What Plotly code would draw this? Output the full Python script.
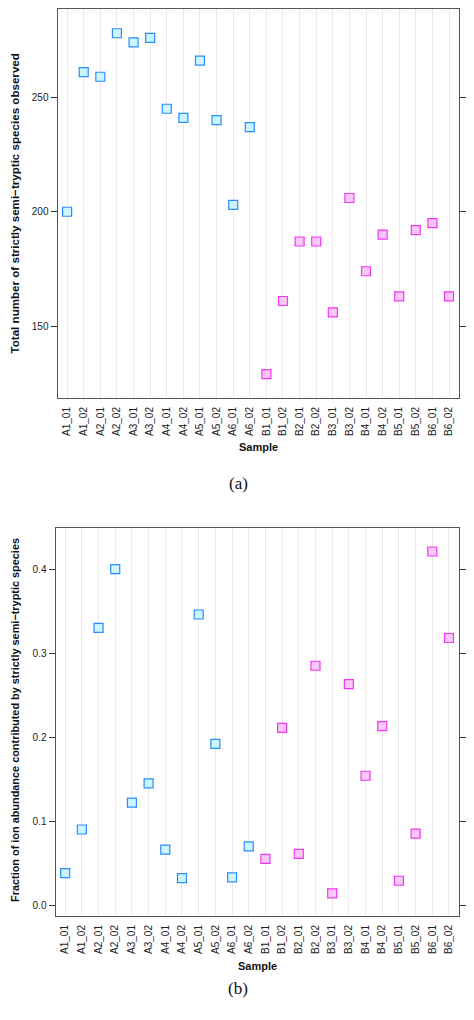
import plotly.graph_objects as go

samples = ["A1_01", "A1_02", "A2_01", "A2_02", "A3_01", "A3_02", "A4_01", "A4_02",
           "A5_01", "A5_02", "A6_01", "A6_02", "B1_01", "B1_02", "B2_01", "B2_02",
           "B3_01", "B3_02", "B4_01", "B4_02", "B5_01", "B5_02", "B6_01", "B6_02"]
group = ["A"] * 12 + ["B"] * 12

total_species = [200, 261, 259, 278, 274, 276, 245, 241, 266, 240, 203, 237,
                 129, 161, 187, 187, 156, 206, 174, 190, 163, 192, 195, 163]
fraction_abundance = [0.038, 0.090, 0.330, 0.400, 0.122, 0.145, 0.066, 0.032,
                      0.346, 0.192, 0.033, 0.070, 0.055, 0.211, 0.061, 0.285,
                      0.014, 0.263, 0.154, 0.213, 0.029, 0.085, 0.421, 0.318]

y1_ticks = [150, 200, 250]
y2_ticks = [0.0, 0.1, 0.2, 0.3, 0.4]

edge = {"A": "#2b8cff", "B": "#f535f5"}
fill = {"A": "#ccf5ff", "B": "#f8c8f8"}

H = 1020.0
top_dom_y = [1 - 398 / H, 1 - 9 / H]
bot_dom_y = [1 - 916 / H, 1 - 528 / H]
top_dom_x = [57.5 / 474, 459 / 474]
bot_dom_x = [55.5 / 474, 459 / 474]

fig = go.Figure()
for g in ["A", "B"]:
    idx = [i for i, v in enumerate(group) if v == g]
    for vals, xa, ya in [(total_species, "x", "y"), (fraction_abundance, "x2", "y2")]:
        fig.add_trace(go.Scatter(
            x=[samples[i] for i in idx], y=[vals[i] for i in idx],
            mode="markers", xaxis=xa, yaxis=ya, showlegend=False,
            marker=dict(symbol="square", size=9, color=fill[g],
                        line=dict(color=edge[g], width=1.2)),
        ))

font = "Liberation Sans, Arial, sans-serif"
xcommon = dict(type="category", categoryorder="array", categoryarray=samples,
               range=[-0.58, 23.6], showgrid=True, gridcolor="#ebebeb", gridwidth=1,
               showline=True, linecolor="#555555", linewidth=1, mirror=True,
               tickangle=-90, tickfont=dict(family=font, size=10, color="#222"),
               ticks="outside", ticklen=4, tickcolor="rgba(0,0,0,0)",
               zeroline=False, automargin=False)
ycommon = dict(showgrid=False, showline=True, linecolor="#555555", linewidth=1,
               mirror="ticks", ticks="outside", ticklen=6, tickcolor="#333",
               tickfont=dict(family=font, size=10, color="#222"), zeroline=False,
               automargin=False)

fig.update_layout(
    width=474, height=1020, margin=dict(l=0, r=0, t=0, b=0),
    paper_bgcolor="white", plot_bgcolor="white",
    xaxis=dict(domain=top_dom_x, anchor="y", **xcommon),
    yaxis=dict(domain=top_dom_y, anchor="x", range=[118.6, 288.6],
               tickvals=y1_ticks, **ycommon),
    xaxis2=dict(domain=bot_dom_x, anchor="y2", **xcommon),
    yaxis2=dict(domain=bot_dom_y, anchor="x2", range=[-0.013, 0.449],
                tickvals=y2_ticks, ticktext=["0.0", "0.1", "0.2", "0.3", "0.4"],
                **ycommon),
    annotations=[
        dict(text="<b>Total number of strictly semi\u2212tryptic species observed</b>",
             x=14 / 474, y=1 - 203.5 / H, xref="paper", yref="paper", textangle=-90,
             showarrow=False, xanchor="center", yanchor="middle",
             font=dict(family=font, size=11.6, color="#111")),
        dict(text="<b>Fraction of ion abundance contributed by strictly semi\u2212tryptic species</b>",
             x=15 / 474, y=1 - 720 / H, xref="paper", yref="paper", textangle=-90,
             showarrow=False, xanchor="center", yanchor="middle",
             font=dict(family=font, size=10.9, color="#111")),
        dict(text="<b>Sample</b>", x=258 / 474, y=1 - 447 / H, xref="paper", yref="paper",
             showarrow=False, xanchor="center", yanchor="middle",
             font=dict(family=font, size=11, color="#111")),
        dict(text="<b>Sample</b>", x=257 / 474, y=1 - 966 / H, xref="paper", yref="paper",
             showarrow=False, xanchor="center", yanchor="middle",
             font=dict(family=font, size=11, color="#111")),
        dict(text="(a)", x=238 / 474, y=1 - 483 / H, xref="paper", yref="paper",
             showarrow=False, font=dict(family="Liberation Serif, serif", size=17, color="#111")),
        dict(text="(b)", x=238 / 474, y=1 - 1000 / H, xref="paper", yref="paper",
             showarrow=False, font=dict(family="Liberation Serif, serif", size=17, color="#111")),
    ],
)

fig.write_html("out.html", config={"displayModeBar": False},
               post_script="document.body.style.margin='0';document.body.style.padding='0';")
